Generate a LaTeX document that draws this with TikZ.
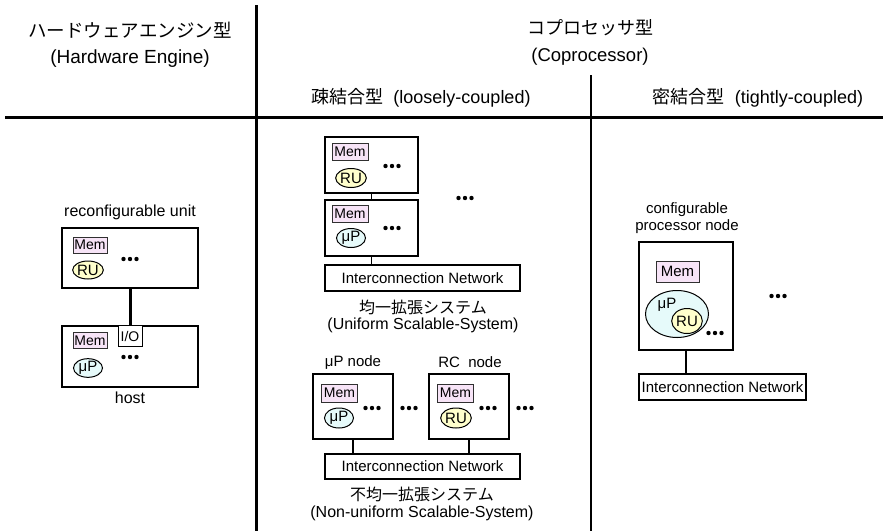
\documentclass[tikz,border=0pt]{standalone}
\usepackage{fontspec}
\setmainfont{Liberation Sans}
\newfontfamily\jpfont{Noto Sans CJK JP}
\usetikzlibrary{shapes.geometric}
\definecolor{memfill}{HTML}{F7E4F7}
\definecolor{memline}{HTML}{303030}
\definecolor{rufill}{HTML}{FFFFCC}
\definecolor{upfill}{HTML}{E6FAFA}
\tikzset{
  fs/.style={font=\fontsize{#1}{#1}\selectfont},
  txt/.style={inner sep=0pt, fs=15},
  unitbox/.style={draw, line width=1.7pt, inner sep=0pt},
  netbox/.style={draw, line width=1.2pt, inner sep=0pt, fs=15, minimum height=26pt},
  membox/.style={draw=memline, line width=1pt, fill=memfill, inner sep=0pt, fs=14,
                 minimum width=36pt, minimum height=17pt},
  iobox/.style={draw, line width=1pt, fill=white, inner sep=0pt, fs=14,
                minimum width=24pt, minimum height=21pt},
  ruell/.style={ellipse, draw, line width=1pt, fill=rufill, inner sep=0pt, fs=15,
                minimum width=29pt, minimum height=18pt},
  upell/.style={ellipse, draw, line width=1pt, fill=upfill, inner sep=0pt, fs=15,
                minimum width=29pt, minimum height=18pt},
  link/.style={line width=1.6pt},
  hwlink/.style={line width=3pt},
  frame/.style={line width=3pt},
  divider/.style={line width=1.3pt},
  ddd/.pic={\fill (-6.5pt,0) circle (2.2pt); \fill (0,0) circle (2.2pt); \fill (6.5pt,0) circle (2.2pt);}
}
\begin{document}
\begin{tikzpicture}[x=1pt,y=-1pt]
\useasboundingbox (0,0) rectangle (883,531);

% table frame
\coordinate (vt) at (256,5);
\coordinate (vb) at (256,531);
\coordinate (hl) at (5,117);
\coordinate (hr) at (883,117);
\coordinate (dt) at (591,75);
\coordinate (db) at (591,531);
\draw[frame] (vt) -- (vb);
\draw[frame] (hl) -- (hr);
\draw[divider] (dt) -- (db);

% headings
\node[txt, fs=18.5] (h1) at (130,30) {\jpfont ハードウェアエンジン型};
\node[txt, fs=19] (h1e) at (130,59) {(Hardware Engine)};
\node[txt, fs=18] (h2) at (590,28) {\jpfont コプロセッサ型};
\node[txt, fs=18.5] (h2e) at (590,57) {(Coprocessor)};
\node[txt, fs=18] (h3) at (421,98) {{\jpfont 疎結合型}\ \ (loosely-coupled)};
\node[txt, fs=18] (h4) at (758,98) {{\jpfont 密結合型}\ \ (tightly-coupled)};

% hardware engine
\node[txt, fs=16] (rulbl) at (130,212) {reconfigurable unit};
\node[unitbox, minimum width=136pt, minimum height=60pt] (hw1) at (130,258) {};
\node[membox, minimum width=34pt, minimum height=16pt] (hwm1) at (90,245) {Mem};
\node[ruell] (hwru) at (88,270) {RU};
\pic at (130,259) {ddd};
\node[unitbox, minimum width=136pt, minimum height=61pt] (hw2) at (130,356.5) {};
\node[iobox, anchor=north] (io) at (hw2.north) {I/O};
\node[membox, minimum width=34pt, minimum height=16pt] (hwm2) at (90,340.5) {Mem};
\node[upell] (hwup) at (88,368) {μP};
\pic at (130,357) {ddd};
\node[txt, fs=16] (hostlbl) at (130,398) {host};
\draw[hwlink] (hw1.south) -- (io.north);

% uniform scalable system
\node[unitbox, minimum width=93pt, minimum height=56pt] (ua) at (371.5,165) {};
\node[membox] (uam) at (350,152) {Mem};
\node[ruell, minimum height=19pt] (uaru) at (351,178) {RU};
\pic at (392,166) {ddd};
\node[unitbox, minimum width=93pt, minimum height=56pt] (ub) at (371.5,228) {};
\node[membox] (ubm) at (350,214) {Mem};
\node[upell, minimum height=19pt] (ubup) at (351,238) {μP};
\pic at (392,228) {ddd};
\pic at (465,198) {ddd};
\node[netbox, minimum width=195pt] (net1) at (422.5,278) {Interconnection Network};
\draw[link] (ua.south) -- (ub.north);
\draw[link] (ub.south) -- (ub.south |- net1.north);
\node[txt, fs=16] (u1) at (423,307) {\jpfont 均一拡張システム};
\node[txt, fs=16] (u2) at (423,325) {(Uniform Scalable-System)};

% non-uniform scalable system
\node[txt, fs=15] (plbl) at (353,362) {μP node};
\node[txt, fs=15] (rlbl) at (470,362) {RC\ \ node};
\node[unitbox, minimum width=80pt, minimum height=65pt] (np) at (353,406.5) {};
\node[membox, minimum height=18pt] (npm) at (339.5,393) {Mem};
\node[upell, minimum height=20pt] (npup) at (339,418) {μP};
\pic at (372,408) {ddd};
\pic at (409,408) {ddd};
\node[unitbox, minimum width=80pt, minimum height=65pt] (nr) at (469,406.5) {};
\node[membox, minimum height=18pt] (nrm) at (455.5,393) {Mem};
\node[ruell, minimum height=20pt] (nrru) at (456,418) {RU};
\pic at (488,408) {ddd};
\pic at (525,408) {ddd};
\node[netbox, minimum width=195pt, minimum height=25pt] (net2) at (422.5,466.5) {Interconnection Network};
\draw[link] (np.south) -- (np.south |- net2.north);
\draw[link] (nr.south) -- (nr.south |- net2.north);
\node[txt, fs=16] (n1) at (422,494) {\jpfont 不均一拡張システム};
\node[txt, fs=16] (n2) at (422,513) {(Non-uniform Scalable-System)};

% tightly-coupled
\node[txt, fs=15] (c1) at (687,210) {configurable};
\node[txt, fs=15] (c2) at (687,227) {processor node};
\node[unitbox, minimum width=94pt, minimum height=108pt] (cp) at (686,296) {};
\node[membox, minimum width=43pt, minimum height=21pt, fs=15] (cpm) at (677.5,271.5) {Mem};
\node[ellipse, draw, line width=1pt, fill=upfill, minimum width=63pt, minimum height=47pt] (cpup) at (677,314) {};
\node[txt, fs=15] (cpuplbl) at (667,305) {μP};
\node[ruell, minimum width=27pt, minimum height=25pt] (cpru) at (687,321) {RU};
\pic at (715,333) {ddd};
\pic at (778,296) {ddd};
\node[netbox, minimum width=167pt] (net3) at (722.5,387) {Interconnection Network};
\draw[link] (cp.south) -- (cp.south |- net3.north);
\end{tikzpicture}
\end{document}
